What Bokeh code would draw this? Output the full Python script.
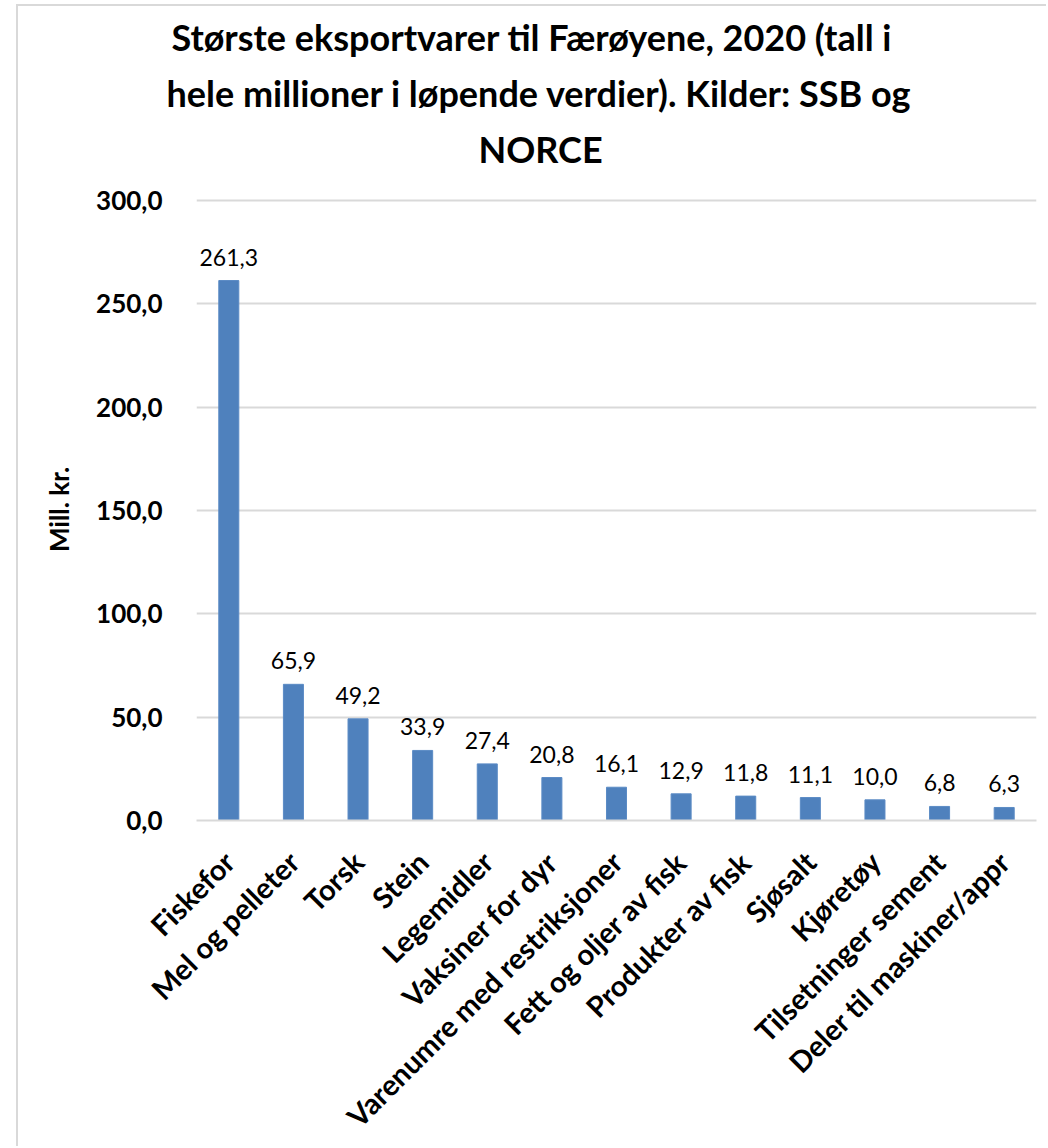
from bokeh.plotting import figure
from bokeh.models import FactorRange, Range1d, ColumnDataSource, CustomJSTickFormatter, Title
from bokeh.embed import file_html
from bokeh.resources import INLINE
from bokeh.core.properties import value
import math

categories = ["Fiskefor", "Mel og pelleter", "Torsk", "Stein", "Legemidler",
              "Vaksiner for dyr", "Varenumre med restriksjoner", "Fett og oljer av fisk",
              "Produkter av fisk", "Sjøsalt", "Kjøretøy", "Tilsetninger sement",
              "Deler til maskiner/appr"]
values = [261.3, 65.9, 49.2, 33.9, 27.4, 20.8, 16.1, 12.9, 11.8, 11.1, 10.0, 6.8, 6.3]
title_lines = ["Største eksportvarer til Færøyene, 2020 (tall i",
               "hele millioner i løpende verdier). Kilder: SSB og",
               "NORCE"]
title_offsets = [-25, -30, 282]
y_label = "Mill. kr."
y_ticks = [0, 50, 100, 150, 200, 250, 300]

FONT = "Lato"

labels = [f"{v:.1f}".replace(".", ",") for v in values]
src = ColumnDataSource(dict(cat=categories, val=values, lab=labels))

p = figure(x_range=FactorRange(*categories, range_padding=0), y_range=Range1d(0, 301),
           width=1030, height=1142, output_backend="svg", toolbar_location=None,
           min_border_left=178, min_border_right=12, min_border_top=192, min_border_bottom=323)
p.outline_line_color = None
p.background_fill_color = "white"
p.border_fill_color = "white"
p.styles = {"margin-left": "16px", "margin-top": "4px",
            "border-left": "2px solid #D9D9D9", "border-top": "2px solid #D9D9D9"}

p.vbar(x="cat", top="val", width=0.31, source=src, fill_color="#4F81BD", line_color="#5B8BC5")
p.text(x="cat", y="val", text="lab", source=src, text_align="center", text_baseline="bottom",
       y_offset=-15, text_font=value(FONT), text_font_size="23px", text_color="#000000")

# grid
p.xgrid.grid_line_color = None
p.ygrid.grid_line_color = "#D9D9D9"
p.ygrid.grid_line_width = 2

# y axis
p.yaxis.ticker = y_ticks
p.yaxis.formatter = CustomJSTickFormatter(code="return tick.toFixed(1).replace('.', ',');")
p.yaxis.axis_line_color = None
p.yaxis.major_tick_line_color = None
p.yaxis.minor_tick_line_color = None
p.yaxis.major_tick_out = 0
p.yaxis.major_tick_in = 0
p.yaxis.major_label_text_font = FONT
p.yaxis.major_label_text_font_style = "bold"
p.yaxis.major_label_text_font_size = "26px"
p.yaxis.major_label_text_color = "#000000"
p.yaxis.major_label_standoff = 34
p.yaxis.axis_label = y_label
p.yaxis.axis_label_text_font = FONT
p.yaxis.axis_label_text_font_style = "bold"
p.yaxis.axis_label_text_font_size = "26px"
p.yaxis.axis_label_text_color = "#000000"
p.yaxis.axis_label_standoff = 18

# x axis
p.xaxis.axis_line_color = "#D9D9D9"
p.xaxis.axis_line_width = 2
p.xaxis.major_tick_line_color = None
p.xaxis.minor_tick_line_color = None
p.xaxis.major_tick_out = 0
p.xaxis.major_tick_in = 0
p.xaxis.major_label_orientation = math.pi / 4
p.xaxis.major_label_text_font = FONT
p.xaxis.major_label_text_font_style = "bold"
p.xaxis.major_label_text_font_size = "29px"
p.xaxis.major_label_text_color = "#000000"
p.xaxis.major_label_standoff = 36

# blank spacer between title block and plot area
p.add_layout(Title(text=" ", text_font=FONT, text_font_size="17px", standoff=0), "above")

# titles (added bottom line first: later ones go above)
for line, off in reversed(list(zip(title_lines, title_offsets))):
    p.add_layout(Title(text=line, align="left", offset=off, text_font=FONT,
                       text_font_style="bold", text_font_size="36px", text_line_height=1.0,
                       text_color="#000000", standoff=10), "above")

open("out.html", "w").write(file_html(p, INLINE))
